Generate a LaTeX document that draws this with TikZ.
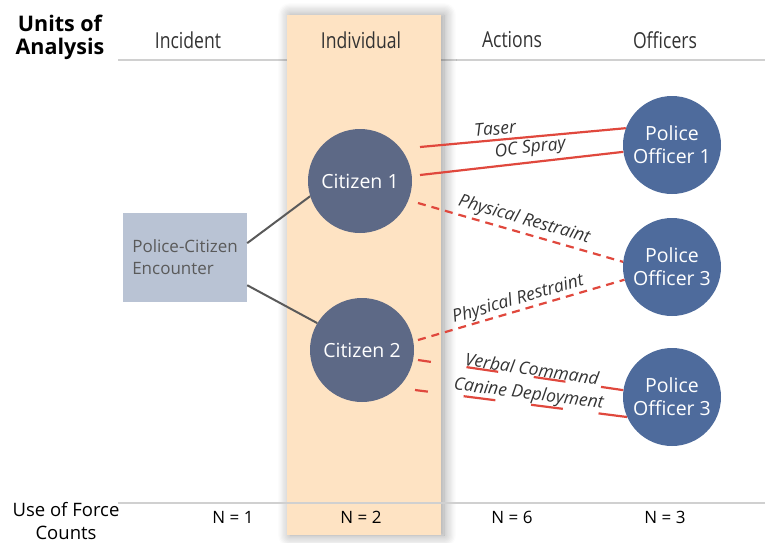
\documentclass[tikz,border=0pt]{standalone}
\usepackage{fontspec}
\setmainfont{Open Sans}
\newfontfamily\condfont[FakeStretch=0.8]{Open Sans}
\usetikzlibrary{shadows.blur}
\definecolor{peach}{HTML}{FEE3C3}
\definecolor{citblue}{HTML}{5D6986}
\definecolor{offblue}{HTML}{4E6B9C}
\definecolor{boxblue}{HTML}{B9C3D4}
\definecolor{forcered}{HTML}{E0483D}
\definecolor{rulegray}{HTML}{D0D0D0}
\definecolor{textgray}{HTML}{5A5A5A}

\begin{document}
\begin{tikzpicture}[x=1pt, y=-1pt,
	citizen/.style={circle, fill=citblue, minimum size=104pt, inner sep=0pt, text=white, align=center, font=\fontsize{19.5}{23}\selectfont},
	officer/.style={citizen, fill=offblue, minimum size=98pt},
	heading/.style={font=\condfont\fontsize{22}{26}\selectfont, text=black!80},
	count/.style={font=\fontsize{17}{20}\selectfont},
	force/.style={forcered, line width=2.2pt},
	forcedash/.style={force, dash pattern=on 8pt off 6pt},
	forcegap/.style={force, dash pattern=on 32pt off 36pt, dash phase=19pt},
	act/.style={font=\itshape\fontsize{17.5}{20}\selectfont, text=black!80, sloped, above, inner sep=1pt},
	link/.style={draw=textgray, line width=2pt}]
	\useasboundingbox (0,0) rectangle (765,542);
	% rules and highlighted column
	\draw[rulegray, line width=1.5pt] (118,60) -- (765,60);
	\node[fill=peach, minimum width=154pt, minimum height=520pt, inner sep=0pt, blur shadow={shadow xshift=3pt, shadow yshift=0pt, shadow blur radius=12pt, shadow blur steps=10}] (col) at (364,275) {};
	\draw[rulegray, line width=1.5pt] (118,503) -- (765,503);
	% headings
	\node[font=\bfseries\fontsize{21.5}{23}\selectfont, align=center] (units) at (60,37) {Units of\\Analysis};
	\node[heading] (hinc) at (188,40) {Incident};
	\node[heading] (hind) at (361,40) {Individual};
	\node[heading] (hact) at (512,40) {Actions};
	\node[heading] (hoff) at (665,40) {Officers};
	% counts
	\node[font=\fontsize{18.5}{22}\selectfont, align=center] (uof) at (66,521) {Use of Force\\Counts};
	\node[count] (ninc) at (233,517) {N = 1};
	\node[count] (nind) at (361,517) {N = 2};
	\node[count] (nact) at (512,517) {N = 6};
	\node[count] (noff) at (665,517) {N = 3};
	% encounter and citizens
	\node[fill=boxblue, minimum width=124pt, minimum height=89pt, text=textgray, align=left, font=\fontsize{17}{22}\selectfont] (enc) at (185,257.5) {Police-Citizen\\Encounter};
	\node[citizen] (cit1) at (360,181) {Citizen 1};
	\node[citizen] (cit2) at (362,350) {Citizen 2};
	\draw[link] (enc.13) -- (cit1.197);
	\draw[link] (enc.-24) -- (cit2.149);
	% officers
	\node[officer] (off1) at (672,145) {Police\\Officer 1};
	\node[officer] (off2) at (672,267) {Police\\Officer 3};
	\node[officer] (off3) at (672,397) {Police\\Officer 3};
	% actions
	\coordinate (tas) at (420,147);
	\coordinate (ocs) at (420,175);
	\coordinate (pr1) at (418,203);
	\coordinate (pr2) at (418,340);
	\coordinate (vrb) at (418,360);
	\coordinate (can) at (415,390);
	\draw[force] (tas) -- node[act, pos=0.37, inner sep=4pt] {Taser} (off1.160);
	\draw[force] (ocs) -- node[act, pos=0.55, inner sep=4pt] {OC Spray} (off1.188);
	\draw[forcedash] (pr1) -- node[act, pos=0.5, inner sep=3pt] {Physical Restraint} (off2.174);
	\draw[forcedash] (pr2) -- node[act, pos=0.5] {Physical Restraint} (off2.195);
	\draw[forcegap] (vrb) -- node[act, pos=0.55, inner sep=0pt] {Verbal Command} (off3.172);
	\draw[forcegap] (can) -- node[act, pos=0.53, inner sep=0pt] {Canine Deployment} (off3.204);
\end{tikzpicture}
\end{document}
